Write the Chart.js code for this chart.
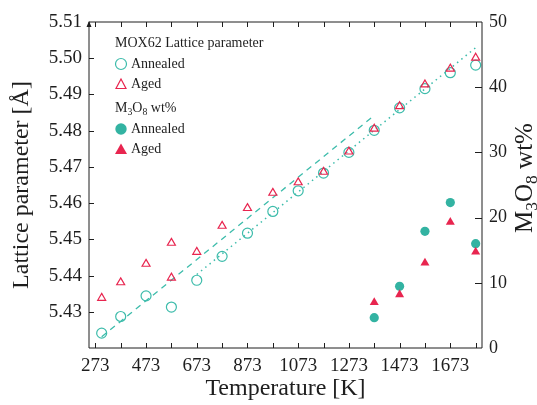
<!DOCTYPE html>
<html>
<head>
<meta charset="utf-8">
<script src="https://cdn.jsdelivr.net/npm/chart.js@4.4.1/dist/chart.umd.min.js"></script>
<style>
  html, body { margin: 0; padding: 0; background: #fff; }
  #wrap { width: 537px; height: 405px; }
</style>
</head>
<body>
<div id="wrap"><canvas id="latticeChart"></canvas></div>
<script>
// lattice parameter (A) vs temperature (K)
var annealedT = [298, 373, 473, 573, 673, 773, 873, 973, 1073, 1173, 1273, 1373, 1473, 1573, 1673, 1773];
var annealedLattice = [5.4241, 5.4287, 5.4344, 5.4313, 5.4387, 5.4453, 5.4517, 5.4577, 5.4634, 5.4683, 5.4740, 5.4801, 5.4863, 5.4916, 5.4960, 5.4981];
var agedT = [298, 373, 473, 573, 573, 673, 773, 873, 973, 1073, 1173, 1273, 1373, 1473, 1573, 1673, 1773];
var agedLattice = [5.4338, 5.4381, 5.4432, 5.4490, 5.4394, 5.4465, 5.4537, 5.4586, 5.4628, 5.4657, 5.4686, 5.4742, 5.4805, 5.4867, 5.4927, 5.4971, 5.5001];

// M3O8 content (wt%)
var oxideT = [1373, 1473, 1573, 1673, 1773];
var oxideAnnealed = [4.65, 9.46, 17.9, 22.3, 16.0];
var oxideAged = [7.0, 8.2, 13.05, 19.3, 14.75];

// linear fits (end points)
var fitLowT = [298, 1373];
var fitLowLattice = [5.4231, 5.4842];
var fitHighT = [673, 1773];
var fitHighLattice = [5.4403, 5.5029];

// axis ticks
var tempTicks = [273, 373, 473, 573, 673, 773, 873, 973, 1073, 1173, 1273, 1373, 1473, 1573, 1673, 1773];
var tempLabels = [273, 473, 673, 873, 1073, 1273, 1473, 1673];
var latticeTicks = [5.43, 5.44, 5.45, 5.46, 5.47, 5.48, 5.49, 5.50, 5.51];
var oxideTicks = [0, 10, 20, 30, 40, 50];

// "M3O8 wt%" with subscripts: [text, isSubscript]
var oxideLabel = [['M', 0], ['3', 1], ['O', 0], ['8', 1], [' wt%', 0]];

var teal = '#3dbcab';
var tealFill = '#33b3a2';
var red = '#e8254f';
var ink = '#1e1e1e';
var serif = '"Liberation Serif", "DejaVu Serif", serif';

Chart.defaults.font.family = serif;
Chart.defaults.color = ink;

function pts(xs, ys) {
  var out = [];
  for (var i = 0; i < xs.length; i++) out.push({x: xs[i], y: ys[i]});
  return out;
}

// draws text pieces on an alphabetic baseline, subscripts smaller and lowered
function subText(ctx, parts, x, y, size, center) {
  var widths = parts.map(function(p) {
    ctx.font = (p[1] ? size * 0.7 : size) + 'px ' + serif;
    return ctx.measureText(p[0]).width;
  });
  var total = widths.reduce(function(s, w) { return s + w; }, 0);
  var cx = center ? x - total / 2 : x;
  ctx.textAlign = 'left';
  ctx.textBaseline = 'alphabetic';
  parts.forEach(function(p, i) {
    ctx.font = (p[1] ? size * 0.7 : size) + 'px ' + serif;
    ctx.fillText(p[0], cx, p[1] ? y + size * 0.2 : y);
    cx += widths[i];
  });
}

// frame, inward tick marks, axis arrow, right title and legend
var decorations = {
  id: 'decorations',
  afterDraw: function(chart) {
    var ctx = chart.ctx;
    var a = chart.chartArea;
    var sx = chart.scales.x, sy = chart.scales.y, sy2 = chart.scales.y2;
    ctx.save();
    ctx.strokeStyle = ink;
    ctx.lineWidth = 1;
    ctx.beginPath();
    ctx.rect(a.left, a.top, a.right - a.left, a.bottom - a.top);
    ctx.stroke();

    ctx.beginPath();
    tempTicks.forEach(function(t) {
      var px = Math.round(sx.getPixelForValue(t)) + 0.5;
      ctx.moveTo(px, a.bottom); ctx.lineTo(px, a.bottom - 5);
      ctx.moveTo(px, a.top); ctx.lineTo(px, a.top + 5);
    });
    latticeTicks.forEach(function(v) {
      if (v >= 5.505) return;
      var py = Math.round(sy.getPixelForValue(v)) + 0.5;
      ctx.moveTo(a.left, py); ctx.lineTo(a.left + 5, py);
    });
    oxideTicks.forEach(function(v) {
      if (v === 0 || v === 50) return;
      var py = Math.round(sy2.getPixelForValue(v)) + 0.5;
      ctx.moveTo(a.right, py); ctx.lineTo(a.right - 7, py);
    });
    ctx.stroke();

    // arrow head on the left axis
    ctx.fillStyle = ink;
    ctx.beginPath();
    ctx.moveTo(a.left, a.top - 1);
    ctx.lineTo(a.left - 2.5, a.top + 5);
    ctx.lineTo(a.left + 2.5, a.top + 5);
    ctx.closePath();
    ctx.fill();

    // right axis title, reading upwards
    ctx.save();
    ctx.translate(532, 178);
    ctx.rotate(-Math.PI / 2);
    subText(ctx, oxideLabel, 0, 0, 25, true);
    ctx.restore();

    // legend
    ctx.fillStyle = ink;
    ctx.font = '14px ' + serif;
    ctx.textAlign = 'left';
    ctx.textBaseline = 'middle';
    ctx.fillText('MOX62 Lattice parameter', 115, 43);
    ctx.fillText('Annealed', 131, 64);
    ctx.fillText('Aged', 131, 84);
    ctx.fillText('Annealed', 131, 129);
    ctx.fillText('Aged', 131, 149);
    subText(ctx, oxideLabel, 115, 112, 14, false);

    ctx.lineWidth = 1.2;
    ctx.strokeStyle = teal;
    ctx.beginPath(); ctx.arc(121, 64, 5.5, 0, Math.PI * 2); ctx.stroke();
    ctx.strokeStyle = red;
    ctx.beginPath(); ctx.moveTo(121, 79); ctx.lineTo(126, 88.5); ctx.lineTo(116, 88.5); ctx.closePath(); ctx.stroke();
    ctx.fillStyle = tealFill;
    ctx.beginPath(); ctx.arc(121, 129, 5.7, 0, Math.PI * 2); ctx.fill();
    ctx.fillStyle = red;
    ctx.beginPath(); ctx.moveTo(121, 143.5); ctx.lineTo(127, 154); ctx.lineTo(115, 154); ctx.closePath(); ctx.fill();
    ctx.restore();
  }
};

var ctx = document.getElementById('latticeChart').getContext('2d');
var chart = new Chart(ctx, {
  type: 'scatter',
  data: {
    datasets: [
      {
        label: 'M3O8 Aged',
        data: pts(oxideT, oxideAged),
        yAxisID: 'y2',
        pointStyle: 'triangle',
        pointRadius: 5.2,
        backgroundColor: red,
        borderColor: red,
        borderWidth: 0
      },
      {
        label: 'M3O8 Annealed',
        data: pts(oxideT, oxideAnnealed),
        yAxisID: 'y2',
        pointStyle: 'circle',
        pointRadius: 4.6,
        backgroundColor: tealFill,
        borderColor: tealFill,
        borderWidth: 0
      },
      {
        label: 'Aged',
        data: pts(agedT, agedLattice),
        yAxisID: 'y',
        pointStyle: 'triangle',
        pointRadius: 4.6,
        backgroundColor: 'rgba(0,0,0,0)',
        borderColor: red,
        borderWidth: 1.2
      },
      {
        label: 'Annealed',
        data: pts(annealedT, annealedLattice),
        yAxisID: 'y',
        pointStyle: 'circle',
        pointRadius: 5,
        backgroundColor: 'rgba(0,0,0,0)',
        borderColor: teal,
        borderWidth: 1.2
      },
      {
        label: 'fit low',
        data: pts(fitLowT, fitLowLattice),
        yAxisID: 'y',
        showLine: true,
        pointRadius: 0,
        borderColor: teal,
        borderWidth: 1.3,
        borderDash: [6, 5]
      },
      {
        label: 'fit high',
        data: pts(fitHighT, fitHighLattice),
        yAxisID: 'y',
        showLine: true,
        pointRadius: 0,
        borderColor: teal,
        borderWidth: 1.5,
        borderDash: [1.5, 4]
      }
    ]
  },
  options: {
    animation: false,
    responsive: true,
    maintainAspectRatio: false,
    layout: { padding: { top: 22, left: 0, right: 0, bottom: 0 } },
    plugins: {
      legend: { display: false },
      tooltip: { enabled: false }
    },
    scales: {
      x: {
        type: 'linear',
        min: 248,
        max: 1798,
        grid: { display: false, drawTicks: false },
        border: { display: false },
        afterBuildTicks: function(scale) {
          scale.ticks = tempTicks.map(function(t) { return {value: t}; });
        },
        afterFit: function(scale) { scale.height = 57; },
        ticks: {
          autoSkip: false,
          maxRotation: 0,
          padding: 7,
          font: { size: 19 },
          callback: function(v) { return tempLabels.indexOf(v) >= 0 ? String(v) : ''; }
        },
        title: {
          display: true,
          text: 'Temperature [K]',
          font: { size: 24 },
          padding: { top: 0, bottom: 2 }
        }
      },
      y: {
        type: 'linear',
        position: 'left',
        min: 5.42,
        max: 5.51,
        grid: { display: false, drawTicks: false },
        border: { display: false },
        afterBuildTicks: function(scale) {
          scale.ticks = latticeTicks.map(function(v) { return {value: v}; });
        },
        afterFit: function(scale) { scale.width = 89; },
        ticks: {
          padding: 7,
          font: { size: 19 },
          callback: function(v) { return v.toFixed(2); }
        },
        title: {
          display: true,
          text: 'Lattice parameter [Å]',
          font: { size: 24 },
          padding: { top: 7, bottom: 0 }
        }
      },
      y2: {
        type: 'linear',
        position: 'right',
        min: 0,
        max: 50,
        grid: { display: false, drawTicks: false },
        border: { display: false },
        afterBuildTicks: function(scale) {
          scale.ticks = oxideTicks.map(function(v) { return {value: v}; });
        },
        afterFit: function(scale) { scale.width = 55; },
        ticks: {
          padding: 7,
          font: { size: 18 }
        }
      }
    }
  },
  plugins: [decorations]
});
</script>
</body>
</html>
